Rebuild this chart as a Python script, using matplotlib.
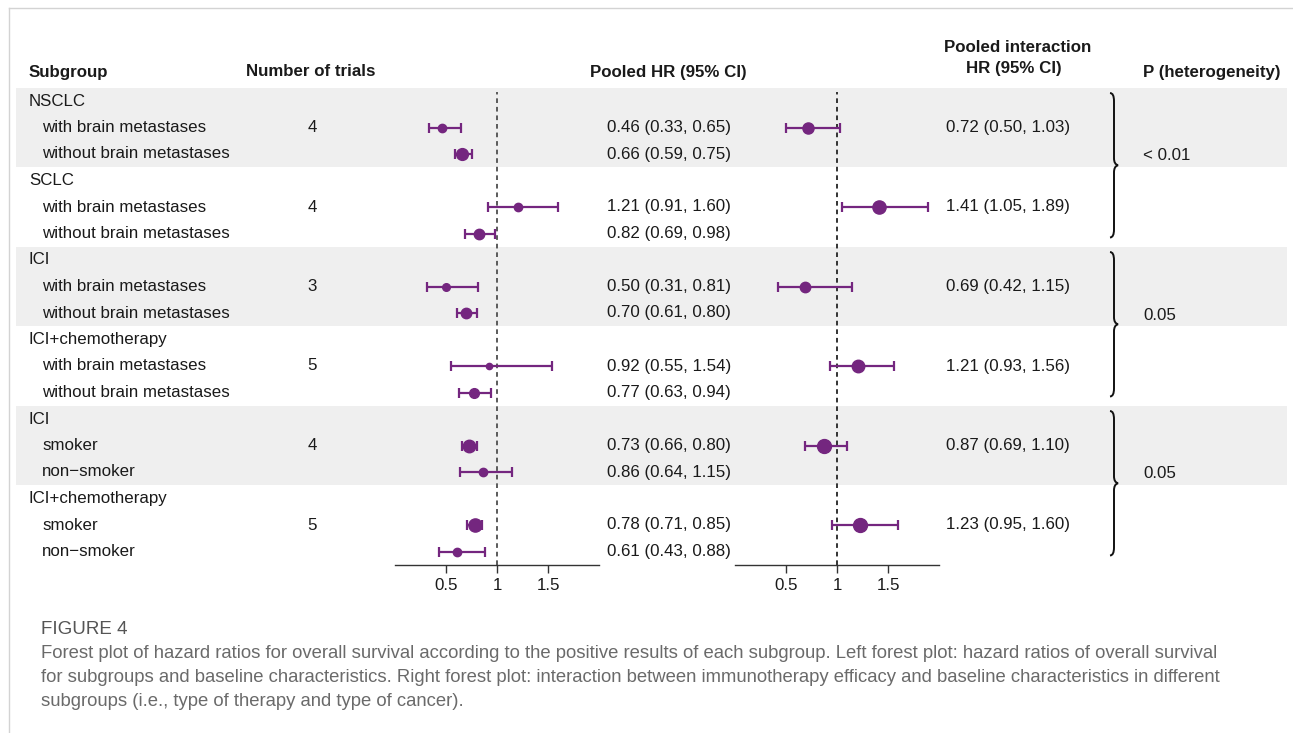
import matplotlib
matplotlib.use('Agg')
import matplotlib.pyplot as plt
from matplotlib.path import Path
from matplotlib.patches import PathPatch

plt.rcParams['font.family'] = ['Liberation Sans', 'DejaVu Sans']

# ---- data ----
row_labels = ['NSCLC', 'with brain metastases', 'without brain metastases',
              'SCLC', 'with brain metastases', 'without brain metastases',
              'ICI', 'with brain metastases', 'without brain metastases',
              'ICI+chemotherapy', 'with brain metastases', 'without brain metastases',
              'ICI', 'smoker', 'non\u2212smoker',
              'ICI+chemotherapy', 'smoker', 'non\u2212smoker']
is_group = [True, False, False] * 6

# pooled HR per row (group header rows have none)
hr_rows = [1, 2, 4, 5, 7, 8, 10, 11, 13, 14, 16, 17]
hr = [0.46, 0.66, 1.21, 0.82, 0.50, 0.70, 0.92, 0.77, 0.73, 0.86, 0.78, 0.61]
hr_lo = [0.33, 0.59, 0.91, 0.69, 0.31, 0.61, 0.55, 0.63, 0.66, 0.64, 0.71, 0.43]
hr_hi = [0.65, 0.75, 1.60, 0.98, 0.81, 0.80, 1.54, 0.94, 0.80, 1.15, 0.85, 0.88]

# interaction HR, one per subgroup pair
int_rows = [1, 4, 7, 10, 13, 16]
n_trials = [4, 4, 3, 5, 4, 5]
ihr = [0.72, 1.41, 0.69, 1.21, 0.87, 1.23]
ihr_lo = [0.50, 1.05, 0.42, 0.93, 0.69, 0.95]
ihr_hi = [1.03, 1.89, 1.15, 1.56, 1.10, 1.60]

# heterogeneity p, one per pair of subgroups
p_rows = [2, 8, 14]
p_vals = ['< 0.01', '0.05', '0.05']

xticks = [0.5, 1, 1.5]
xtick_labels = ['0.5', '1', '1.5']

caption_title = 'FIGURE 4'
caption_lines = [
    'Forest plot of hazard ratios for overall survival according to the positive results of each subgroup. Left forest plot: hazard ratios of overall survival',
    'for subgroups and baseline characteristics. Right forest plot: interaction between immunotherapy efficacy and baseline characteristics in different',
    'subgroups (i.e., type of therapy and type of cancer).',
]

# marker sizes (visual weight of each estimate)
ms_hr = [6, 8.5, 6, 7.5, 5.5, 7.5, 4.5, 7, 9, 6, 9.5, 6]
ms_int = [8, 9.5, 7.5, 9, 10, 10]

# ---- layout ----
W, H = 1293, 733
ROW0, DY = 101, 26.5
purple = '#74267f'
txt = '#1a1a1a'
fs = 12.2


def ry(i):
    return ROW0 + DY * i


fig = plt.figure(figsize=(W / 100, H / 100), dpi=100)
bg = fig.add_axes([0, 0, 1, 1])
bg.set_xlim(0, W)
bg.set_ylim(H, 0)
bg.axis('off')

# border lines of the figure panel
bg.plot([9, W], [8, 8], color='#d3d3d3', lw=1)
bg.plot([9, 9], [8, H], color='#d3d3d3', lw=1)

# shaded bands
for g in range(0, 18, 6):
    bg.fill_between([16, 1287], ry(g - 0.5), ry(g + 2.5), color='#efefef', lw=0, zorder=0)

# headers
hy = 72
bg.text(29, hy, 'Subgroup', fontsize=fs, fontweight='bold', va='center', color=txt)
bg.text(246, hy, 'Number of trials', fontsize=fs, fontweight='bold', va='center', color=txt)
bg.text(668, hy, 'Pooled HR (95% CI)', fontsize=fs, fontweight='bold', va='center', ha='center', color=txt)
bg.text(1018, 48, 'Pooled interaction', fontsize=fs, fontweight='bold', va='center', ha='center', color=txt)
bg.text(1014, 69, 'HR (95% CI)', fontsize=fs, fontweight='bold', va='center', ha='center', color=txt)
bg.text(1143, hy, 'P (heterogeneity)', fontsize=fs, fontweight='bold', va='center', color=txt)

# row labels
for i, (lab, grp) in enumerate(zip(row_labels, is_group)):
    bg.text(29 if grp else 42, ry(i), lab, fontsize=fs, va='center', color=txt)

for r, v, lo, hi in zip(hr_rows, hr, hr_lo, hr_hi):
    bg.text(607, ry(r), f'{v:.2f} ({lo:.2f}, {hi:.2f})', fontsize=fs, va='center', color=txt)

for r, n, v, lo, hi in zip(int_rows, n_trials, ihr, ihr_lo, ihr_hi):
    bg.text(312, ry(r), str(n), fontsize=fs, va='center', ha='center', color=txt)
    bg.text(946, ry(r), f'{v:.2f} ({lo:.2f}, {hi:.2f})', fontsize=fs, va='center', color=txt)

for r, p in zip(p_rows, p_vals):
    bg.text(1143, ry(r) + 2, p, fontsize=fs, va='center', color=txt)


# curly braces
def brace(y0, y1, xb=1110, w=4, tip=8):
    m = (y0 + y1) / 2
    verts = [(xb, y0), (xb + w, y0), (xb + w, y0 + 8),
             (xb + w, m - 7),
             (xb + w, m - 1), (xb + tip, m),
             (xb + w, m + 1), (xb + w, m + 7),
             (xb + w, y1 - 8),
             (xb + w, y1), (xb, y1)]
    codes = [Path.MOVETO, Path.CURVE3, Path.CURVE3, Path.LINETO,
             Path.CURVE3, Path.CURVE3, Path.CURVE3, Path.CURVE3,
             Path.LINETO, Path.CURVE3, Path.CURVE3]
    bg.add_patch(PathPatch(Path(verts, codes), fill=False, lw=1.4, color='#111111'))


for g in range(0, 18, 6):
    brace(ry(g - 0.3), ry(g + 5.15))

# caption
bg.text(41, 629, caption_title, fontsize=13.5, color='#555555', va='center')
for k, line in enumerate(caption_lines):
    bg.text(41, 654 + 24 * k, line, fontsize=13.3, color='#6a6a6a', va='center')


# forest axes
def forest(x0, rows, vals, los, his, sizes, dash_color):
    top, bot = 92, 565
    ax = fig.add_axes([x0 / W, 1 - bot / H, 204 / W, (bot - top) / H])
    ax.patch.set_alpha(0)
    ax.set_xlim(0, 2)
    ax.set_ylim((bot - ROW0) / DY, (top - ROW0) / DY)
    for s in ['top', 'left', 'right']:
        ax.spines[s].set_visible(False)
    ax.spines['bottom'].set_color('#333333')
    ax.spines['bottom'].set_linewidth(1)
    ax.set_yticks([])
    ax.set_xticks(xticks)
    ax.set_xticklabels(xtick_labels)
    ax.tick_params(axis='x', length=6, width=1, color='#333333', labelsize=fs,
                   labelcolor=txt, pad=3)
    ax.axvline(1, color=dash_color, lw=1.4, ls=(0, (2.4, 2.0)), zorder=1)
    for r, v, lo, hi, s in zip(rows, vals, los, his, sizes):
        ax.errorbar(v, r, xerr=[[v - lo], [hi - v]], fmt='o', color=purple, ms=s,
                    elinewidth=1.6, capsize=3.3, capthick=1.6, zorder=3)
    return ax


forest(395, hr_rows, hr, hr_lo, hr_hi, ms_hr, '#5a5a5a')
forest(735, int_rows, ihr, ihr_lo, ihr_hi, ms_int, '#333333')

fig.savefig('out.png', dpi=100)
